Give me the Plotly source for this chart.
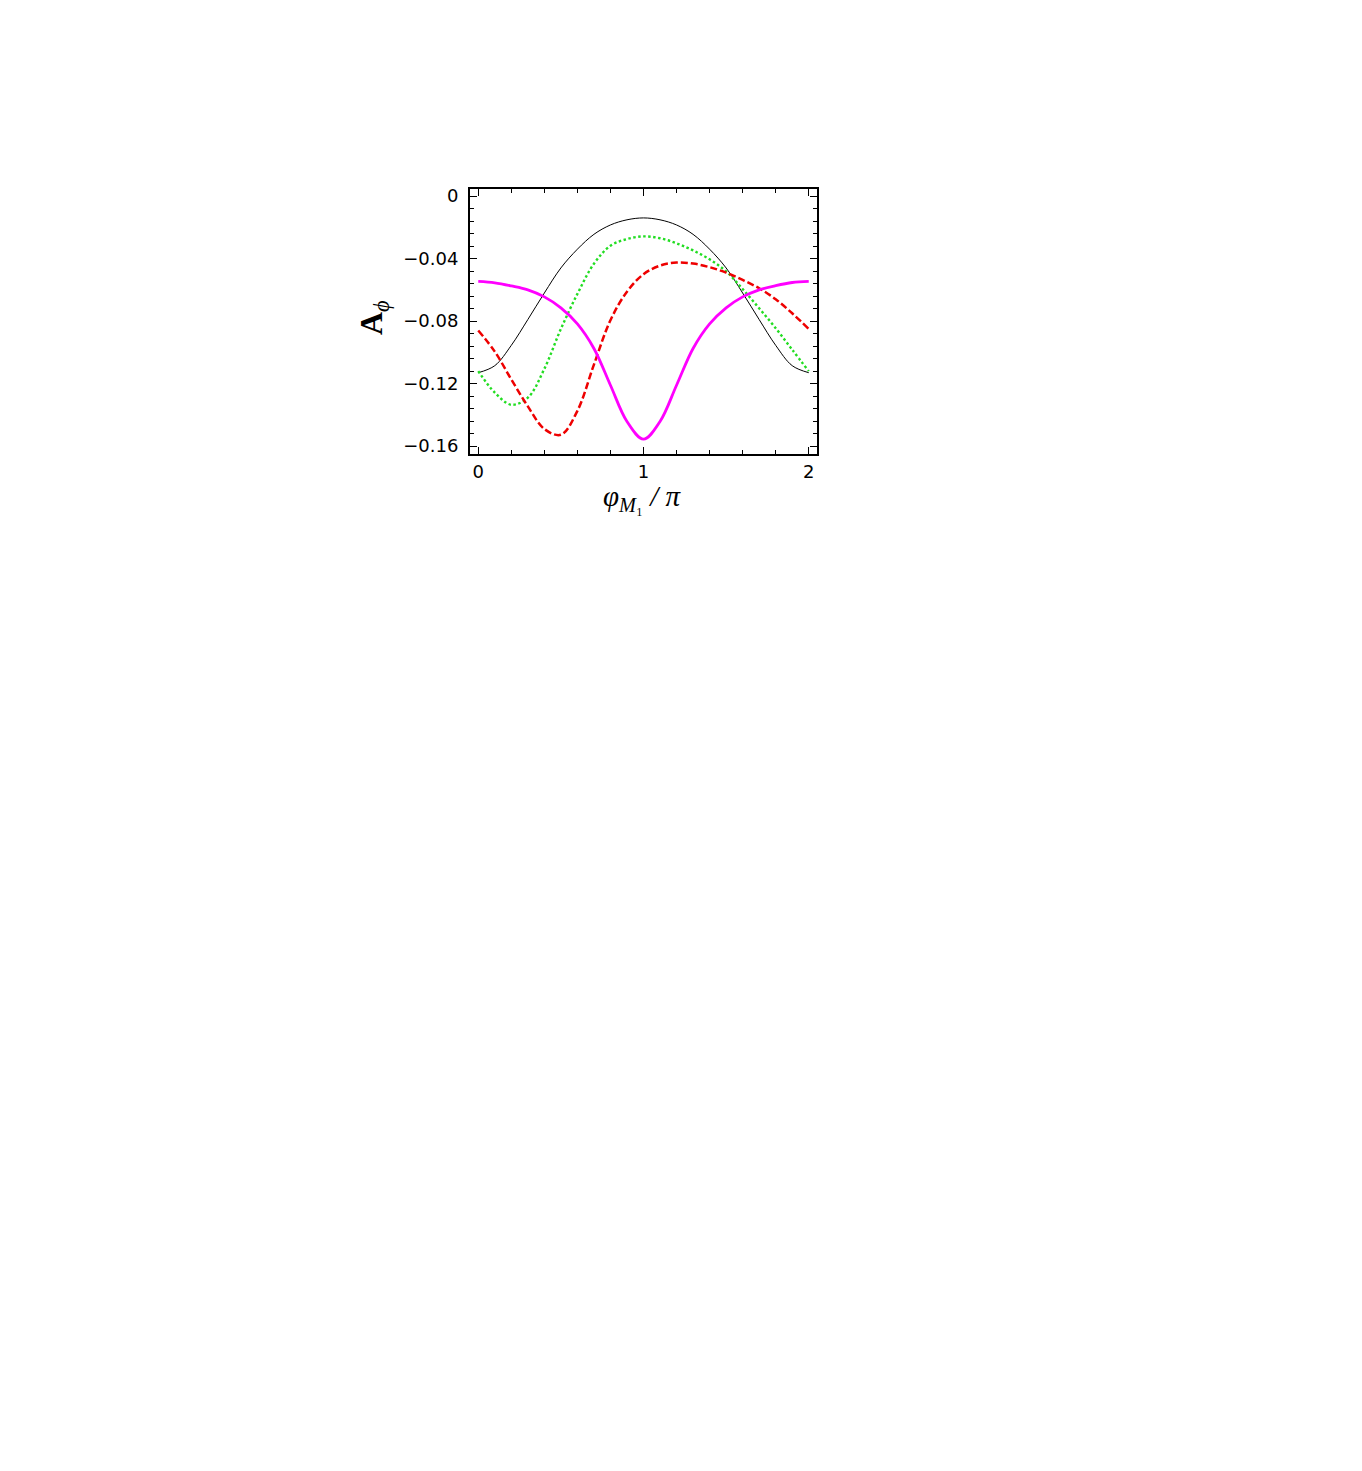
import plotly.graph_objects as go

# x values in units of pi
phi = [0.0, 0.1, 0.2, 0.3, 0.4, 0.5, 0.6, 0.7, 0.8, 0.9, 1.0,
       1.1, 1.2, 1.3, 1.4, 1.5, 1.6, 1.7, 1.8, 1.9, 2.0]

black_vals = [-0.113, -0.1085, -0.0955, -0.079, -0.062, -0.046, -0.034, -0.0245, -0.0185, -0.0152, -0.014,
              -0.0152, -0.0185, -0.0245, -0.034, -0.046, -0.062, -0.079, -0.0955, -0.1085, -0.113]

green_vals = [-0.112, -0.1257, -0.1335, -0.129, -0.1105, -0.085, -0.0626, -0.0433, -0.0318, -0.0275, -0.0258,
              -0.027, -0.0302, -0.0348, -0.0405, -0.0482, -0.0595, -0.0718, -0.0845, -0.0983, -0.112]

red_vals = [-0.086, -0.0995, -0.1173, -0.1345, -0.149, -0.1527, -0.1374, -0.1078, -0.0794, -0.0612, -0.050,
            -0.0445, -0.0425, -0.0432, -0.0455, -0.049, -0.0537, -0.059, -0.066, -0.075, -0.085]

magenta_vals = [-0.0546, -0.0555, -0.0575, -0.0600, -0.0645, -0.0715, -0.0818, -0.0975, -0.1210, -0.1442, -0.1555,
                -0.1442, -0.1210, -0.0975, -0.0818, -0.0715, -0.0645, -0.0600, -0.0573, -0.0553, -0.0546]

x_tickvals = [0, 1, 2]
x_ticktext = ["0", "1", "2"]
y_tickvals = [-0.16, -0.12, -0.08, -0.04, 0]
y_ticktext = ["\u22120.16", "\u22120.12", "\u22120.08", "\u22120.04", "0"]

fig = go.Figure()
fig.add_trace(go.Scatter(x=phi, y=black_vals, mode="lines",
                         line=dict(color="black", width=1, shape="spline", smoothing=1.0)))
fig.add_trace(go.Scatter(x=phi, y=green_vals, mode="lines",
                         line=dict(color="#22dd22", width=2.4, dash="2.5px,2.5px", shape="spline", smoothing=1.0)))
fig.add_trace(go.Scatter(x=phi, y=red_vals, mode="lines",
                         line=dict(color="#ee0000", width=2.5, dash="7px,3px", shape="spline", smoothing=1.0)))
fig.add_trace(go.Scatter(x=phi, y=magenta_vals, mode="lines",
                         line=dict(color="#ff00ff", width=2.8, shape="spline", smoothing=1.0)))

tickfont = dict(family="DejaVu Sans, Liberation Sans, sans-serif", size=18, color="black")

fig.update_xaxes(range=[-0.05, 2.05], tickvals=x_tickvals, ticktext=x_ticktext,
                 showgrid=False, zeroline=False, showline=True, linecolor="black", linewidth=2,
                 mirror="ticks", ticks="inside", ticklen=7, tickwidth=1, tickcolor="black",
                 tickfont=tickfont,
                 minor=dict(dtick=0.2, tick0=0, ticks="inside", ticklen=4, tickcolor="black", tickwidth=1,
                            showgrid=False))
fig.update_yaxes(range=[-0.165, 0.0045], tickvals=y_tickvals, ticktext=y_ticktext,
                 showgrid=False, zeroline=False, showline=True, linecolor="black", linewidth=2,
                 mirror="ticks", ticks="inside", ticklen=7, tickwidth=1, tickcolor="black",
                 tickfont=tickfont, ticklabelstandoff=6,
                 minor=dict(dtick=0.008, tick0=0, ticks="inside", ticklen=4, tickcolor="black", tickwidth=1,
                            showgrid=False))

fig.add_annotation(xref="paper", yref="paper", x=(372 - 469) / 347, y=(453 - 317) / 265,
                   text="<b>A</b><sub><i>\u03d5</i></sub>", textangle=-90, showarrow=False,
                   font=dict(family="Liberation Serif, DejaVu Serif, serif", size=32, color="black"),
                   xanchor="center", yanchor="middle")
fig.add_annotation(xref="paper", yref="paper", x=(641 - 469) / 347, y=(453 - 497) / 265,
                   text="<i>\u03c6</i><sub><i>M</i>\u2081</sub> <i>/ \u03c0</i>", showarrow=False,
                   font=dict(family="Liberation Serif, DejaVu Serif, serif", size=29, color="black"),
                   xanchor="center", yanchor="middle")

fig.update_layout(width=1362, height=1471, showlegend=False,
                  margin=dict(l=462, r=553, t=181, b=1025, autoexpand=False),
                  paper_bgcolor="white", plot_bgcolor="white")

fig.write_html("out.html")
